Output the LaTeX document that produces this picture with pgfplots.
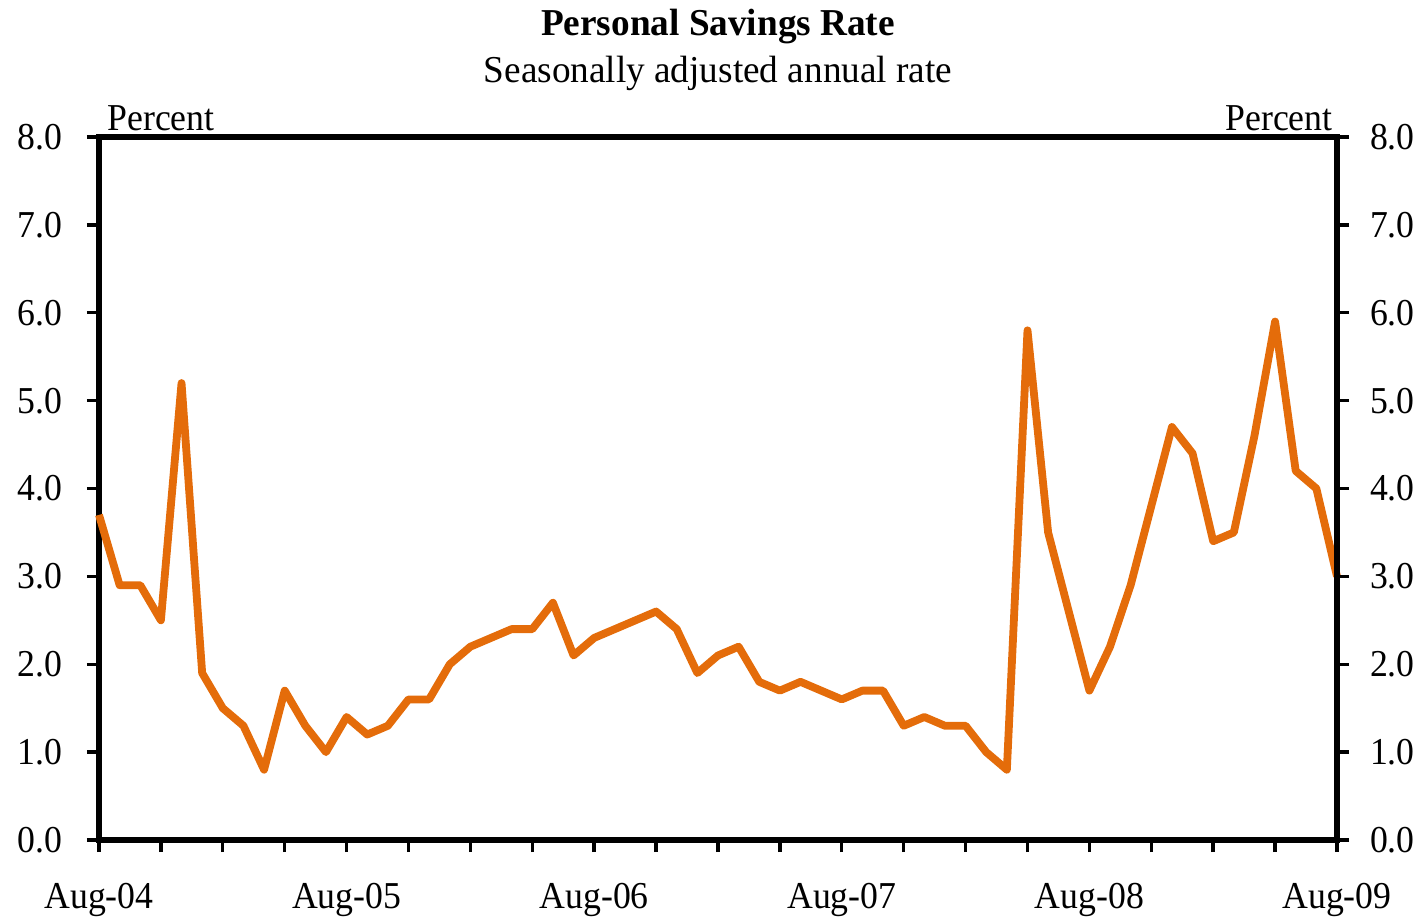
\documentclass[border=0pt]{standalone}
\usepackage{fontspec}
\setmainfont{Liberation Serif}[FakeStretch=0.94]
\newfontfamily\titlefont{Liberation Serif}[FakeStretch=0.98]
\usepackage{pgfplots}
\pgfplotsset{compat=1.18}
\definecolor{sav}{RGB}{228,108,10}

\pgfplotsset{
  savbase/.style={
    at={(0,0)},anchor=south west,
    width=619pt,height=351.5pt,scale only axis,
    xmin=0,xmax=60,ymin=0,ymax=8,
    ytick={0,1,...,8},
    tick align=outside,
    major tick length=6pt,minor tick length=6pt,
    tick style={black,line width=1.7pt},
    axis line style={black,line width=2.9pt},
    /pgf/number format/assume math mode=true,
    yticklabel={\pgfmathprintnumber[fixed,fixed zerofill,precision=1]{\tick}},
    tick label style={font=\fontsize{19}{22}\selectfont},
  }
}

\begin{document}
\fontsize{19}{22}\selectfont
\begin{tikzpicture}
  \path[use as bounding box] (-49.5pt,-39pt) rectangle (661pt,420pt);
  \begin{axis}[savbase,name=ax,
      axis lines=box,
      xtick={0,12,...,60},
      minor xtick={3,6,9,15,18,21,27,30,33,39,42,45,51,54,57},
      xticklabels={Aug-04,Aug-05,Aug-06,Aug-07,Aug-08,Aug-09},
      xtick pos=bottom,ytick pos=left,
      x tick label style={yshift=-9pt},
      y tick label style={xshift=-6pt},
      clip=false]
    \addplot[sav,line width=3.9pt,line join=round] coordinates {
      (0,3.7) (1,2.9) (2,2.9) (3,2.5) (4,5.2) (5,1.9) (6,1.5) (7,1.3)
      (8,0.8) (9,1.7) (10,1.3) (11,1.0) (12,1.4) (13,1.2) (14,1.3) (15,1.6)
      (16,1.6) (17,2.0) (18,2.2) (19,2.3) (20,2.4) (21,2.4) (22,2.7) (23,2.1)
      (24,2.3) (25,2.4) (26,2.5) (27,2.6) (28,2.4) (29,1.9) (30,2.1) (31,2.2)
      (32,1.8) (33,1.7) (34,1.8) (35,1.7) (36,1.6) (37,1.7) (38,1.7) (39,1.3)
      (40,1.4) (41,1.3) (42,1.3) (43,1.0) (44,0.8) (45,5.8) (46,3.5) (47,2.6)
      (48,1.7) (49,2.2) (50,2.9) (51,3.8) (52,4.7) (53,4.4) (54,3.4) (55,3.5)
      (56,4.6) (57,5.9) (58,4.2) (59,4.0) (60,3.0)};
  \end{axis}
  \begin{axis}[savbase,
      axis y line*=right,hide x axis,
      y tick label style={xshift=4pt}]
    \addplot[draw=none] coordinates {(0,0)};
  \end{axis}
  \node[anchor=base west,inner sep=0pt] at (4pt,355pt) {Percent};
  \node[anchor=base east,inner sep=0pt] at (617pt,355pt) {Percent};
  \node[anchor=base,inner sep=0pt,font=\titlefont] at (309.5pt,378.5pt) {Seasonally adjusted annual rate};
  \node[anchor=base,inner sep=0pt,font=\titlefont\bfseries] at (309.5pt,402.5pt) {Personal Savings Rate};
\end{tikzpicture}
\end{document}
